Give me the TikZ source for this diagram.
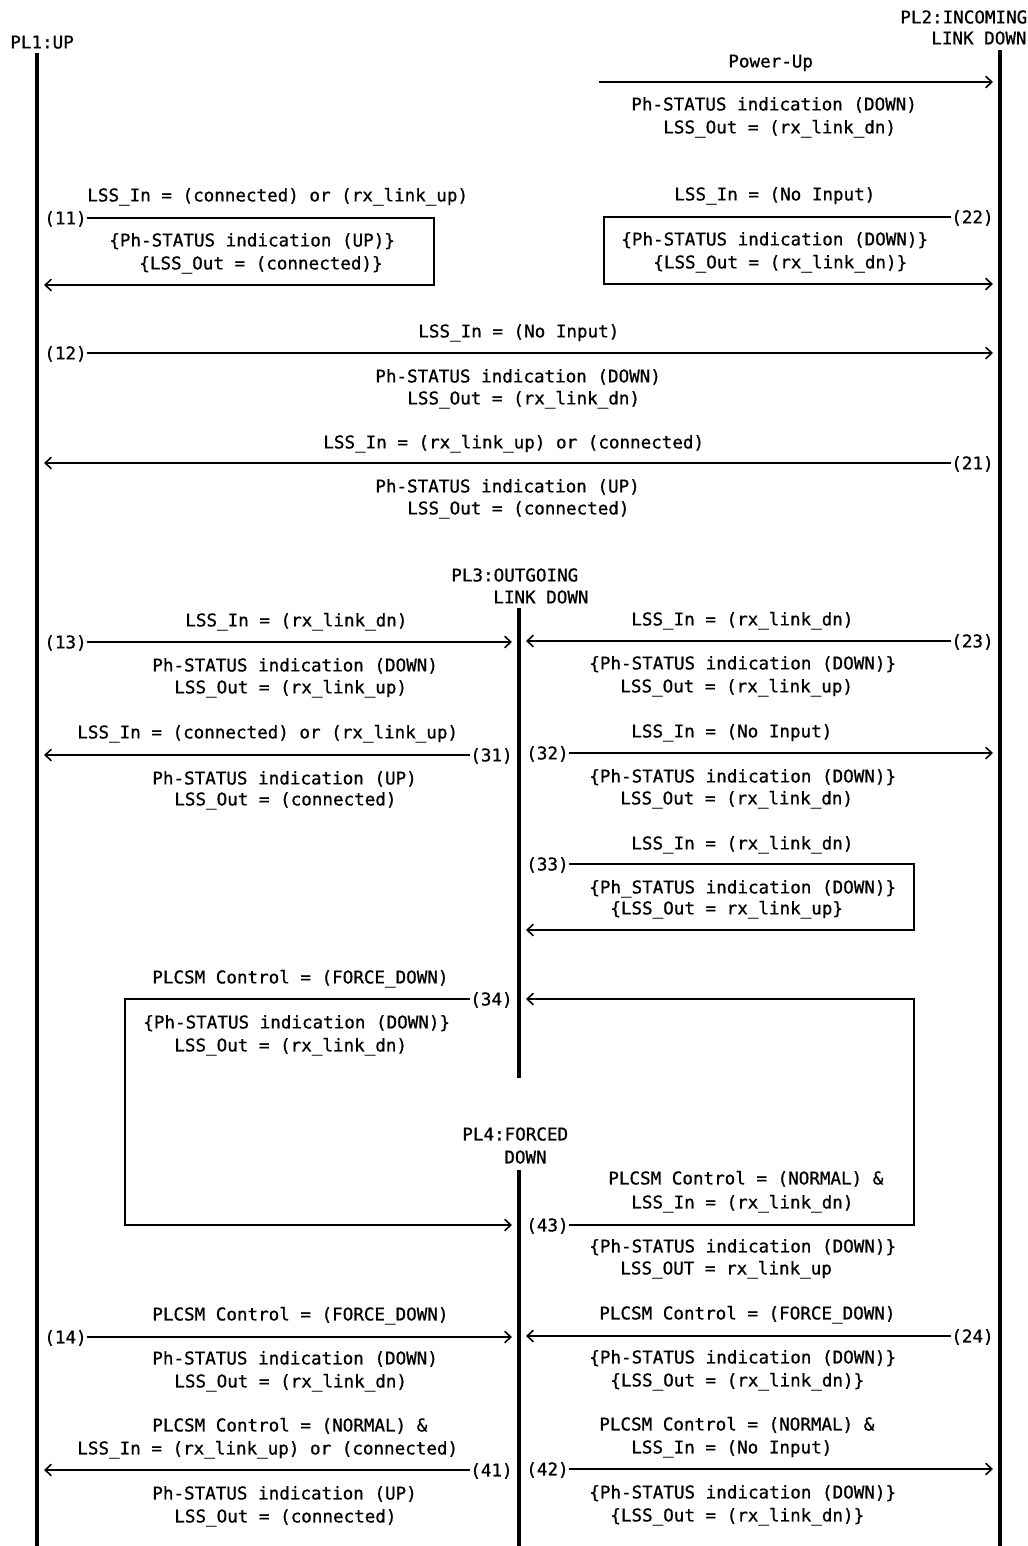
\documentclass[tikz,border=0pt]{standalone}
\usepackage{fontspec}
\newfontfamily\mono[FakeBold=0.8]{DejaVu Sans Mono}
\usetikzlibrary{arrows.meta}

\tikzset{
    lbl/.style={anchor=west, inner sep=0pt, text height=7.3pt, text depth=0pt,
        font=\mono\fontsize{10}{12}\selectfont},
    numl/.style={lbl, anchor=west},
    numr/.style={lbl, anchor=east},
    msg/.style={line width=0.9pt, -{Straight Barb[length=3.5pt,width=6.5pt]}, shorten >=4pt},
    life/.style={line width=1.8pt}
}

\begin{document}
\begin{tikzpicture}[x=0.02cm, y=-0.02cm]
    \useasboundingbox (0,0) rectangle (1028,1546);

    \node[lbl] at (10,42) (pl1) {PL1:UP};
    \node[lbl] at (900,17) (pl2a) {PL2:INCOMING};
    \node[lbl] at (931,38) (pl2b) {LINK DOWN};
    \node[lbl] at (451,575) (pl3a) {PL3:OUTGOING};
    \node[lbl] at (493,597) (pl3b) {LINK DOWN};
    \node[lbl] at (462,1134) (pl4a) {PL4:FORCED};
    \node[lbl] at (504,1157) (pl4b) {DOWN};

    \coordinate (L1top) at (37,53);
    \coordinate (L1bot) at (37,1546);
    \coordinate (L2top) at (1000,50);
    \coordinate (L2bot) at (1000,1546);
    \coordinate (L3top) at (519,608);
    \coordinate (L3bot) at (519,1078);
    \coordinate (L4top) at (519,1170);
    \coordinate (L4bot) at (519,1546);

    \draw[life] (L1top) -- (L1bot);
    \draw[life] (L2top) -- (L2bot);
    \draw[life] (L3top) -- (L3bot);
    \draw[life] (L4top) -- (L4bot);

    % power-up
    \coordinate (pu) at (599,82);
    \node[lbl] at (728,61) (tpua) {Power-Up};
    \node[lbl] at (631,104) (tpub) {Ph-STATUS indication (DOWN)};
    \node[lbl] at (663,127) (tpuc) {LSS\_Out = (rx\_link\_dn)};
    \draw[msg] (pu) -- (pu -| L2top);

    % 11
    \node[numl] at (44,218) (m11) {(11)};
    \coordinate (c11) at (434,285);
    \node[lbl] at (87,195) (t11a) {LSS\_In = (connected) or (rx\_link\_up)};
    \node[lbl] at (109,240) (t11b) {\{Ph-STATUS indication (UP)\}};
    \node[lbl] at (139,263) (t11c) {\{LSS\_Out = (connected)\}};
    \draw[msg] (m11) -| (c11) -- (c11 -| L1top);

    % 22
    \node[numr] at (994,217) (m22) {(22)};
    \coordinate (c22) at (604,284);
    \node[lbl] at (674,194) (t22a) {LSS\_In = (No Input)};
    \node[lbl] at (621,239) (t22b) {\{Ph-STATUS indication (DOWN)\}};
    \node[lbl] at (653,262) (t22c) {\{LSS\_Out = (rx\_link\_dn)\}};
    \draw[msg] (m22) -| (c22) -- (c22 -| L2top);

    % 12
    \node[numl] at (44,353) (m12) {(12)};
    \node[lbl] at (418,331) (t12a) {LSS\_In = (No Input)};
    \node[lbl] at (375,376) (t12b) {Ph-STATUS indication (DOWN)};
    \node[lbl] at (407,398) (t12c) {LSS\_Out = (rx\_link\_dn)};
    \draw[msg] (m12) -- (m12 -| L2top);

    % 21
    \node[numr] at (994,463) (m21) {(21)};
    \node[lbl] at (323,442) (t21a) {LSS\_In = (rx\_link\_up) or (connected)};
    \node[lbl] at (375,486) (t21b) {Ph-STATUS indication (UP)};
    \node[lbl] at (407,508) (t21c) {LSS\_Out = (connected)};
    \draw[msg] (m21) -- (m21 -| L1top);

    % 13
    \node[numl] at (44,642) (m13) {(13)};
    \node[lbl] at (185,620) (t13a) {LSS\_In = (rx\_link\_dn)};
    \node[lbl] at (152,665) (t13b) {Ph-STATUS indication (DOWN)};
    \node[lbl] at (174,687) (t13c) {LSS\_Out = (rx\_link\_up)};
    \draw[msg] (m13) -- (m13 -| L3top);

    % 23
    \node[numr] at (994,641) (m23) {(23)};
    \node[lbl] at (631,619) (t23a) {LSS\_In = (rx\_link\_dn)};
    \node[lbl] at (589,663) (t23b) {\{Ph-STATUS indication (DOWN)\}};
    \node[lbl] at (620,686) (t23c) {LSS\_Out = (rx\_link\_up)};
    \draw[msg] (m23) -- (m23 -| L3top);

    % 31
    \node[numr] at (513,755) (m31) {(31)};
    \node[lbl] at (77,732) (t31a) {LSS\_In = (connected) or (rx\_link\_up)};
    \node[lbl] at (152,778) (t31b) {Ph-STATUS indication (UP)};
    \node[lbl] at (174,799) (t31c) {LSS\_Out = (connected)};
    \draw[msg] (m31) -- (m31 -| L1top);

    % 32
    \node[numl] at (526,753) (m32) {(32)};
    \node[lbl] at (631,731) (t32a) {LSS\_In = (No Input)};
    \node[lbl] at (589,776) (t32b) {\{Ph-STATUS indication (DOWN)\}};
    \node[lbl] at (620,798) (t32c) {LSS\_Out = (rx\_link\_dn)};
    \draw[msg] (m32) -- (m32 -| L2top);

    % 33
    \node[numl] at (526,864) (m33) {(33)};
    \coordinate (c33) at (914,930);
    \node[lbl] at (631,843) (t33a) {LSS\_In = (rx\_link\_dn)};
    \node[lbl] at (589,887) (t33b) {\{Ph\_STATUS indication (DOWN)\}};
    \node[lbl] at (610,908) (t33c) {\{LSS\_Out = rx\_link\_up\}};
    \draw[msg] (m33) -| (c33) -- (c33 -| L3top);

    % 34
    \node[numr] at (513,999) (m34) {(34)};
    \coordinate (c34) at (125,1225);
    \node[lbl] at (152,977) (t34a) {PLCSM Control = (FORCE\_DOWN)};
    \node[lbl] at (143,1022) (t34b) {\{Ph-STATUS indication (DOWN)\}};
    \node[lbl] at (174,1045) (t34c) {LSS\_Out = (rx\_link\_dn)};
    \draw[msg] (m34) -| (c34) -- (c34 -| L4top);

    % 43
    \node[numl] at (526,1225) (m43) {(43)};
    \coordinate (c43) at (914,999);
    \node[lbl] at (608,1178) (t43a) {PLCSM Control = (NORMAL) \&};
    \node[lbl] at (631,1202) (t43b) {LSS\_In = (rx\_link\_dn)};
    \node[lbl] at (589,1246) (t43c) {\{Ph-STATUS indication (DOWN)\}};
    \node[lbl] at (620,1268) (t43d) {LSS\_OUT = rx\_link\_up};
    \draw[msg] (m43) -| (c43) -- (c43 -| L3top);

    % 14
    \node[numl] at (44,1337) (m14) {(14)};
    \node[lbl] at (152,1314) (t14a) {PLCSM Control = (FORCE\_DOWN)};
    \node[lbl] at (152,1358) (t14b) {Ph-STATUS indication (DOWN)};
    \node[lbl] at (174,1381) (t14c) {LSS\_Out = (rx\_link\_dn)};
    \draw[msg] (m14) -- (m14 -| L4top);

    % 24
    \node[numr] at (994,1336) (m24) {(24)};
    \node[lbl] at (599,1313) (t24a) {PLCSM Control = (FORCE\_DOWN)};
    \node[lbl] at (589,1357) (t24b) {\{Ph-STATUS indication (DOWN)\}};
    \node[lbl] at (610,1380) (t24c) {\{LSS\_Out = (rx\_link\_dn)\}};
    \draw[msg] (m24) -- (m24 -| L4top);

    % 41
    \node[numr] at (513,1470) (m41) {(41)};
    \node[lbl] at (152,1425) (t41a) {PLCSM Control = (NORMAL) \&};
    \node[lbl] at (77,1448) (t41b) {LSS\_In = (rx\_link\_up) or (connected)};
    \node[lbl] at (152,1493) (t41c) {Ph-STATUS indication (UP)};
    \node[lbl] at (174,1516) (t41d) {LSS\_Out = (connected)};
    \draw[msg] (m41) -- (m41 -| L1top);

    % 42
    \node[numl] at (526,1469) (m42) {(42)};
    \node[lbl] at (599,1424) (t42a) {PLCSM Control = (NORMAL) \&};
    \node[lbl] at (631,1447) (t42b) {LSS\_In = (No Input)};
    \node[lbl] at (589,1492) (t42c) {\{Ph-STATUS indication (DOWN)\}};
    \node[lbl] at (610,1515) (t42d) {\{LSS\_Out = (rx\_link\_dn)\}};
    \draw[msg] (m42) -- (m42 -| L2top);
\end{tikzpicture}
\end{document}
